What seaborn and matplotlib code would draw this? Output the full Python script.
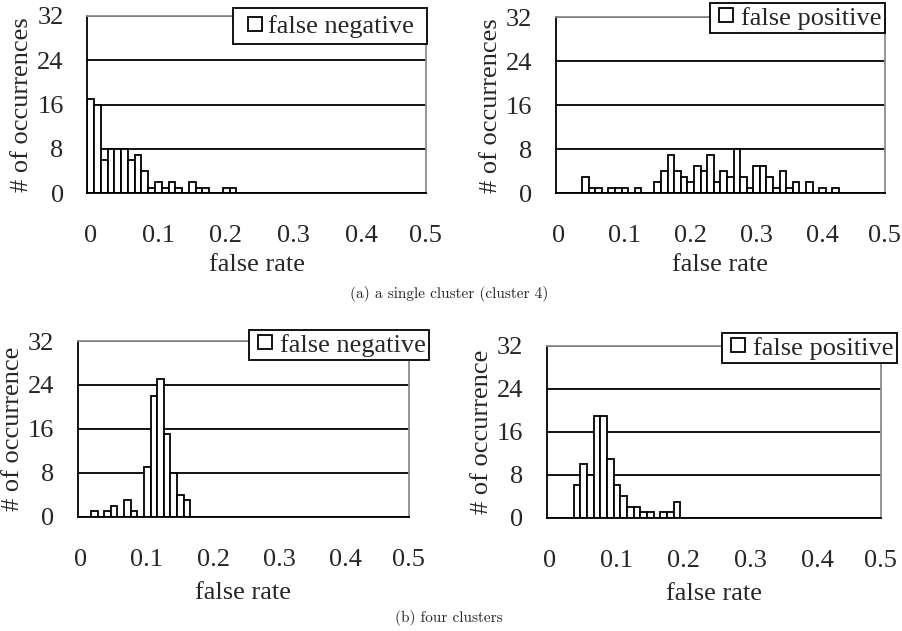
import matplotlib
matplotlib.use("Agg")
import matplotlib.pyplot as plt
import seaborn as sns
import numpy as np
from matplotlib.lines import Line2D

# ---------------------------------------------------------------
# histogram counts per 0.01 bin of the false rate (bin start -> count)

fn_single_rate = [0.00, 0.01, 0.02, 0.03, 0.04, 0.05, 0.06, 0.07, 0.08, 0.09, 0.10,
                  0.11, 0.12, 0.13, 0.15, 0.16, 0.17, 0.20, 0.21]
fn_single_count = [17, 16, 6, 8, 8, 8, 6, 7, 4, 1, 2, 1, 2, 1, 2, 1, 1, 1, 1]

fp_single_rate = [0.04, 0.05, 0.06, 0.08, 0.09, 0.10, 0.12, 0.15, 0.16, 0.17, 0.18,
                  0.19, 0.20, 0.21, 0.22, 0.23, 0.24, 0.25, 0.26, 0.27, 0.28, 0.29,
                  0.30, 0.31, 0.32, 0.33, 0.34, 0.35, 0.36, 0.38, 0.40, 0.42]
fp_single_count = [3, 1, 1, 1, 1, 1, 1, 2, 4, 7, 4, 3, 2, 5, 4, 7, 2, 4, 3, 8, 3, 1,
                   5, 5, 3, 1, 4, 1, 2, 2, 1, 1]

fn_four_rate = [0.02, 0.04, 0.05, 0.07, 0.08, 0.10, 0.11, 0.12, 0.13, 0.14, 0.15, 0.16]
fn_four_count = [1, 1, 2, 3, 1, 9, 22, 25, 15, 8, 4, 3]

fp_four_rate = [0.04, 0.05, 0.06, 0.07, 0.08, 0.09, 0.10, 0.11, 0.12, 0.13, 0.14,
                0.15, 0.17, 0.18, 0.19]
fp_four_count = [6, 10, 8, 19, 19, 11, 6, 4, 2, 2, 1, 1, 1, 1, 3]

y_ticks = [0, 8, 16, 24, 32]
x_tick_labels = ["0", "0.1", "0.2", "0.3", "0.4", "0.5"]
captions = ["(a) a single cluster (cluster 4)", "(b) four clusters"]

# ---------------------------------------------------------------

sns.set_theme(style="white")
plt.rcParams['font.family'] = ['Liberation Serif', 'DejaVu Serif']
plt.rcParams['axes.unicode_minus'] = False
FONTSIZE = 19
LW = 1.3
W, H = 903, 631

fig = plt.figure(figsize=(W / 100, H / 100), dpi=100)

# legend box styles: the first panel has a roomier box than the others
WIDE_LEG = dict(handlelength=1.2, handletextpad=-0.12, borderpad=0.24, pad_text=" ")
TIGHT_LEG = dict(handlelength=0.95, handletextpad=0.1, borderpad=0.12, pad_text="")


def px_axes(x0, x1, y0, y1):
    # axes from pixel box (top-left origin)
    return fig.add_axes([x0 / W, 1 - y1 / H, (x1 - x0) / W, (y1 - y0) / H])


def draw_panel(ax, rate, count, ylabel, legend_label, legend_corner, leg_style,
               xlabelpad):
    centers = np.array(rate) + 0.005
    sns.histplot(x=centers, weights=count, binwidth=0.01, binrange=(0, 0.5),
                 color="white", edgecolor="black", linewidth=LW, alpha=1,
                 ax=ax)
    ax.set_xlim(0, 0.5)
    ax.set_ylim(0, 32)
    ax.set_axisbelow(True)
    ax.yaxis.grid(True, color="black", linewidth=LW)
    ax.set_yticks(y_ticks)
    ax.set_yticklabels([str(t) for t in y_ticks], fontsize=FONTSIZE)
    xt = [0.0045, 0.1045, 0.2045, 0.3045, 0.4045, 0.4999]
    ax.set_xticks(xt)
    ax.set_xticklabels(x_tick_labels, fontsize=FONTSIZE)
    ax.tick_params(axis="x", length=0, pad=23)
    ax.tick_params(axis="y", length=0, pad=17)
    for s in ["left", "bottom"]:
        ax.spines[s].set_color("black")
        ax.spines[s].set_linewidth(LW)
    for s in ["top", "right"]:
        ax.spines[s].set_color("#8c8c8c")
        ax.spines[s].set_linewidth(LW)
    ax.set_xlabel("false rate", fontsize=FONTSIZE, labelpad=xlabelpad)
    ax.set_ylabel(ylabel, fontsize=FONTSIZE, labelpad=3)
    handle = Line2D([], [], marker="s", linestyle="none", markersize=10.5,
                    markerfacecolor="white", markeredgecolor="black",
                    markeredgewidth=LW)
    leg = ax.legend([handle], [legend_label + leg_style["pad_text"]], loc="upper right",
                    bbox_to_anchor=(legend_corner[0] / W, 1 - legend_corner[1] / H),
                    bbox_transform=fig.transFigure, fontsize=FONTSIZE,
                    frameon=True, fancybox=False, framealpha=1, borderaxespad=0,
                    handlelength=leg_style["handlelength"],
                    handletextpad=leg_style["handletextpad"],
                    borderpad=leg_style["borderpad"])
    leg.get_frame().set_edgecolor("black")
    leg.get_frame().set_linewidth(LW)


ax1 = px_axes(87.3, 426, 16, 193.3)
draw_panel(ax1, fn_single_rate, fn_single_count, "# of occurrences",
           "false negative", (427, 8), WIDE_LEG, 5)
ax2 = px_axes(555.7, 885, 17, 193.3)
draw_panel(ax2, fp_single_rate, fp_single_count, "# of occurrences",
           "false positive", (885, 3), TIGHT_LEG, 5)
ax3 = px_axes(77.7, 408.7, 341, 516.7)
draw_panel(ax3, fn_four_rate, fn_four_count, "# of occurrence",
           "false negative", (429, 330), TIGHT_LEG, 8)
ax4 = px_axes(547, 880.7, 345.7, 517.7)
draw_panel(ax4, fp_four_rate, fp_four_count, "# of occurrence",
           "false positive", (897, 333), TIGHT_LEG, 8)

fig.text(449 / W, 1 - 294 / H, captions[0], family="cmr10", fontsize=11,
         ha="center", va="center")
fig.text(449 / W, 1 - 618 / H, captions[1], family="cmr10", fontsize=11,
         ha="center", va="center")

fig.savefig("out.png", dpi=100)
